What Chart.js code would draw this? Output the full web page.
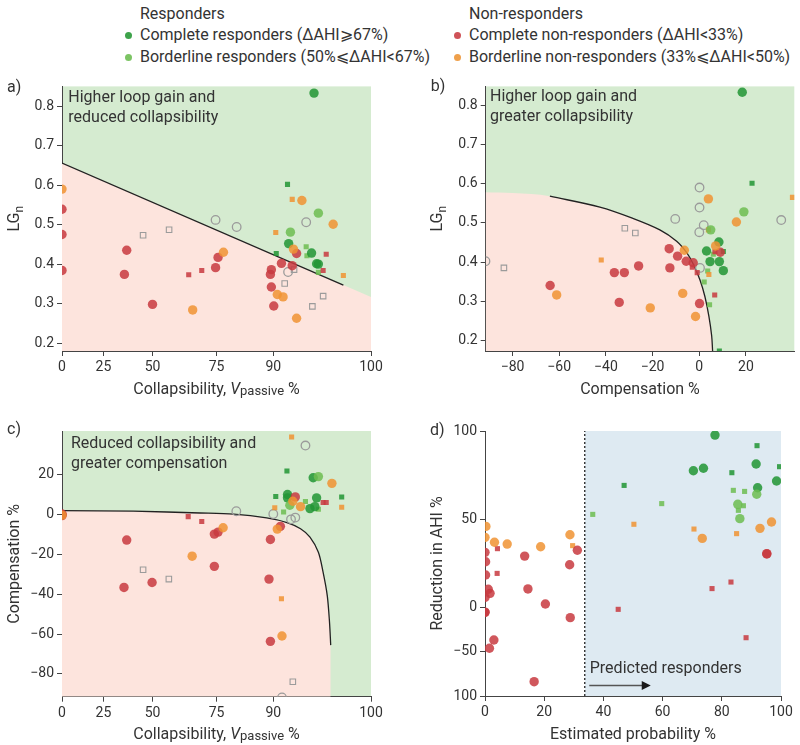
<!DOCTYPE html>
<html>
<head>
<meta charset="utf-8">
<script src="https://cdn.jsdelivr.net/npm/chart.js@4.4.1/dist/chart.umd.min.js"></script>
<style>
  body { margin: 0; background: #fff; }
  #wrap { position: relative; width: 800px; height: 745px; font-family: Roboto, "DejaVu Sans", sans-serif; color: #333; }
  canvas { position: absolute; }
  .lg { position: absolute; font-size: 16px; line-height: 22px; white-space: nowrap; }
  .lg i { position: absolute; left: -15px; top: 7.5px; width: 7px; height: 7px; border-radius: 50%; }
</style>
</head>
<body>
<div id="wrap">
  <div class="lg" style="left:140px;top:3px">Responders</div>
  <div class="lg" style="left:140px;top:24px"><i style="background:#3ea34b"></i>Complete responders (ΔAHI⩾67%)</div>
  <div class="lg" style="left:140px;top:46px"><i style="background:#7cc464"></i>Borderline responders (50%⩽ΔAHI&lt;67%)</div>
  <div class="lg" style="left:469px;top:3px">Non-responders</div>
  <div class="lg" style="left:469px;top:24px"><i style="background:#cf5358"></i>Complete non-responders (ΔAHI&lt;33%)</div>
  <div class="lg" style="left:469px;top:46px"><i style="background:#efa04b"></i>Borderline non-responders (33%⩽ΔAHI&lt;50%)</div>
  <canvas id="chartA" width="400" height="330" style="left:0;top:75px"></canvas>
  <canvas id="chartB" width="400" height="330" style="left:400px;top:75px"></canvas>
  <canvas id="chartC" width="400" height="340" style="left:0;top:405px"></canvas>
  <canvas id="chartD" width="400" height="340" style="left:400px;top:405px"></canvas>
</div>
<script>
// ---- panel a: collapsibility (Vpassive %) vs loop gain (LGn)
const aCompleteResp = [[96.6,0.833],[92.9,0.452],[96.3,0.428],[96.9,0.401],[97.1,0.400]];
const aBorderResp = [[97.1,0.529],[93.2,0.481]];
const aCompleteNon = [[0,0.539],[0,0.475],[0,0.384],[37.5,0.435],[36.3,0.374],[50.0,0.298],[75.5,0.417],[74.7,0.391],[94.2,0.427],[91.6,0.402],[93.5,0.396],[89.6,0.386],[89.4,0.374],[89.6,0.342],[90.1,0.294]];
const aBorderNon = [[0,0.590],[95.0,0.561],[98.5,0.501],[93.7,0.438],[77.2,0.430],[90.8,0.323],[91.9,0.317],[66.7,0.284],[94.2,0.263]];
const aUnknown = [[74.7,0.512],[81.1,0.494],[95.6,0.506],[92.8,0.380]];
const aCompleteRespSq = [[92.7,0.602],[90.6,0.427]];
const aBorderRespSq = [[95.6,0.444],[95.7,0.421],[97.1,0.379]];
const aCompleteNonSq = [[65.2,0.373],[70.0,0.384],[97.9,0.425],[97.6,0.384]];
const aBorderNonSq = [[93.5,0.564],[90.5,0.480],[99.2,0.371]];
const aUnknownSq = [[45.6,0.473],[57.3,0.487],[92.2,0.351],[93.8,0.386],[96.4,0.293],[97.6,0.319]];
const aBoundary = [[0,0.656],[100,0.317]];
const aBoundaryLine = [[0,0.656],[99.2,0.347]];

// ---- panel b: compensation % vs loop gain
const bCompleteResp = [[18.4,0.833],[8.4,0.451],[3.1,0.428],[4.6,0.401],[8.6,0.401],[10.3,0.378]];
const bBorderResp = [[19.1,0.528],[4.9,0.482]];
const bCompleteNon = [[-63.9,0.340],[-36.4,0.373],[-32.1,0.373],[-34.3,0.297],[-26.0,0.390],[-12.9,0.434],[-9.3,0.415],[-12.6,0.385],[-5.6,0.402],[-2.6,0.398],[0.1,0.294],[9.0,0.425]];
const bBorderNon = [[3.9,0.561],[15.9,0.502],[7.0,0.441],[-6.4,0.430],[-7.1,0.320],[-21.0,0.283],[-1.6,0.261],[-61.1,0.316]];
const bUnknown = [[0.1,0.590],[0.1,0.539],[-10.3,0.510],[1.9,0.494],[0,0.476],[0.3,0.385],[35.1,0.507],[-91.6,0.402]];
const bCompleteRespSq = [[22.6,0.601],[8.6,0.173],[10.3,0.427]];
const bBorderRespSq = [[3.6,0.377],[2.1,0.349],[4.4,0.291],[6.0,0.420]];
const bCompleteNonSq = [[-3.0,0.387],[-0.9,0.373],[6.7,0.426],[6.6,0.316]];
const bBorderNonSq = [[39.9,0.565],[3.9,0.482],[4.1,0.368],[-42.0,0.405]];
const bUnknownSq = [[-31.9,0.486],[-27.4,0.474],[-83.7,0.385]];
const bBoundary = [[-92,0.578],[-80,0.576],[-64,0.568],[-42.6,0.540],[-28.3,0.511],[-16.9,0.482],[-9.7,0.453],[-5.4,0.424],[-2.6,0.395],[0.3,0.354],[2.4,0.312],[4.1,0.262],[5.3,0.212],[5.7,0.173]];
const bLineFrom = -64;

// ---- panel c: collapsibility vs compensation
const cCompleteResp = [[96.5,18.5],[92.7,10.1],[92.7,8.4],[96.9,8.4],[96.1,3.0],[96.7,4.0]];
const cBorderResp = [[97.1,19.1],[93.1,4.7]];
const cCompleteNon = [[0,-0.5],[0,0.3],[0,-0.1],[94.0,8.9],[91.4,-5.9],[89.4,-12.5],[89.1,-32.4],[89.4,-63.7],[37.5,-12.8],[36.1,-36.6],[49.8,-34.1],[74.3,-9.8],[75.5,-8.8],[74.3,-26.0]];
const cBorderNon = [[0,-0.3],[98.4,15.7],[94.8,4.0],[93.6,6.7],[77.1,-6.6],[66.5,-20.9],[90.8,-7.3],[91.7,-61.0]];
const cUnknown = [[95.5,34.7],[81.0,1.7],[90.0,0.3],[93.3,-2.4],[94.0,-1.5],[91.7,-91.9]];
const cCompleteRespSq = [[92.6,21.9],[90.5,9.1],[99.1,8.8]];
const cBorderRespSq = [[95.5,6.6],[97.1,2.7],[92.0,1.3]];
const cCompleteNonSq = [[65.0,-1.0],[70.0,-3.5],[97.6,6.1],[97.9,6.1]];
const cBorderNonSq = [[93.4,39.0],[90.3,3.4],[99.1,3.7],[91.6,-42.3]];
const cUnknownSq = [[45.6,-27.7],[57.2,-32.4],[93.6,-84.0]];
const cBoundary = [[0,2.0],[40.9,1.7],[69.4,0.8],[80.2,0.2],[88.6,-1.7],[92.6,-4.0],[94.8,-7.1],[96.1,-11.3],[97.1,-18.9],[97.6,-29.0],[98.0,-40.8],[98.2,-54.3],[98.3,-65.6]];

// ---- panel d: estimated probability vs reduction in AHI
const dCompleteResp = [[77.7,97.7],[70.4,77.5],[73.8,78.9],[91.6,81.3],[92.1,67.9],[98.5,71.7]];
const dBorderResp = [[91.8,64.2],[85.4,58.5],[86.1,50.4]];
const dCompleteNon = [[0,31.3],[0.2,26.0],[0.2,18.5],[1.1,10.4],[1.7,8.1],[0,5.8],[0,-5.3],[0,-5.0],[3.0,-36.6],[1.5,-46.0],[13.4,29.2],[14.5,10.6],[20.4,2.1],[28.6,24.3],[28.8,-11.3],[31.2,32.5],[16.6,-83.8],[95.2,30.4],[95.2,30.6]];
const dBorderNon = [[0.3,46.0],[0,39.8],[3.2,37.0],[7.5,36.0],[18.8,34.5],[28.7,41.3],[73.4,39.2],[92.9,44.9],[96.8,48.5]];
const dCompleteRespSq = [[91.9,91.7],[99.5,79.8],[83.4,76.4],[47.0,69.2]];
const dBorderRespSq = [[36.4,52.8],[59.7,58.9],[83.9,66.4],[87.7,65.8],[87.3,57.7],[85.6,55.1]];
const dCompleteNonSq = [[4.2,33.4],[4.1,19.4],[45.0,-1.9],[76.7,10.8],[83.1,14.5],[88.2,-34.0]];
const dBorderNonSq = [[29.6,35.1],[50.3,47.2],[70.6,44.5],[85.0,41.9]];
const dThreshold = 33.7;

// ---- ticks
const collapseTicks = [0, 25, 50, 75, 90, 100];
const loopGainTicks = [0.2, 0.3, 0.4, 0.5, 0.6, 0.7, 0.8];
const compTicks = [-80, -60, -40, -20, 0, 20];
const probTicks = [0, 20, 40, 60, 80, 100];
const ahiTicks = [100, 50, 0, -50, -100];
const ahiTickLabels = ['100', '50', '0', '−50', '100'];

const RED = 'rgba(200,58,64,0.85)';
const ORANGE = 'rgba(240,147,51,0.85)';
const GREEN = 'rgba(33,149,52,0.85)';
const LIGHTGREEN = 'rgba(109,189,81,0.85)';
const GRAY = '#9b9b9b';
const BG_GREEN = '#d5ebd0';
const BG_PINK = '#fde4dd';
const BG_BLUE = '#deeaf2';
const FONT = 'Roboto';

// x axis of a and c is spaced by sqrt(100 - Vpassive)
class SqrtGapScale extends Chart.LinearScale {
  getPixelForValue(value) {
    const t = (10 - Math.sqrt(Math.max(0, 100 - value))) / 10;
    return this.getPixelForDecimal(t);
  }
  getValueForPixel(pixel) {
    const t = this.getDecimalForPixel(pixel);
    return 100 - Math.pow(10 - 10 * t, 2);
  }
}
SqrtGapScale.id = 'sqrtgap';
SqrtGapScale.defaults = Chart.LinearScale.defaults;

// y axis of d: positive half gets twice the room of the negative half
class SplitScale extends Chart.LinearScale {
  getPixelForValue(value) {
    const d = value < 0 ? (value + 100) / 300 : (100 + 2 * value) / 300;
    return this.getPixelForDecimal(d);
  }
}
SplitScale.id = 'split';
SplitScale.defaults = Chart.LinearScale.defaults;
Chart.register(SqrtGapScale, SplitScale);

const xy = arr => arr.map(p => ({ x: p[0], y: p[1] }));

function dot(arr, color) {
  return { type: 'scatter', data: xy(arr), pointStyle: 'circle', pointRadius: 4.7,
    pointBackgroundColor: color, pointBorderWidth: 0, order: 1 };
}
function square(arr, color) {
  return { type: 'scatter', data: xy(arr), pointStyle: 'rect', pointRadius: 3.6,
    pointBackgroundColor: color, pointBorderWidth: 0, order: 2 };
}
function ring(arr) {
  return { type: 'scatter', data: xy(arr), pointStyle: 'circle', pointRadius: 4.3,
    pointBackgroundColor: 'rgba(0,0,0,0)', pointBorderColor: GRAY, pointBorderWidth: 1.3, order: 3 };
}
function box(arr) {
  return { type: 'scatter', data: xy(arr), pointStyle: 'rect', pointRadius: 3.9,
    pointBackgroundColor: 'rgba(0,0,0,0)', pointBorderColor: GRAY, pointBorderWidth: 1.1, order: 3 };
}
function region(arr, color, tension) {
  return { type: 'line', data: xy(arr), fill: 'start', backgroundColor: color, borderWidth: 0,
    pointRadius: 0, tension: tension, order: 20 };
}
function curve(arr, tension, dash) {
  return { type: 'line', data: xy(arr), fill: false, borderColor: '#222', borderWidth: 1.3,
    borderDash: dash || [], pointRadius: 0, tension: tension, order: 10 };
}

function axis(opts) {
  return {
    type: opts.type || 'linear',
    min: opts.min, max: opts.max,
    border: { display: true, color: '#444', width: 1 },
    grid: { drawOnChartArea: false, drawTicks: true, tickLength: 5, color: '#444' },
    ticks: {
      color: '#333', font: { family: FONT, size: 14 }, padding: 3, maxRotation: 0, autoSkip: false,
      callback: (v, i) => opts.labels ? opts.labels[i] : String(v)
    },
    afterBuildTicks: s => { s.ticks = opts.ticks.map(v => ({ value: v })); },
    afterFit: s => { if (opts.width) s.width = opts.width; if (opts.height) s.height = opts.height; }
  };
}

function drawParts(ctx, parts, cx, cy, rotate) {
  ctx.save();
  ctx.translate(cx, cy);
  if (rotate) ctx.rotate(-Math.PI / 2);
  ctx.textAlign = 'left';
  ctx.textBaseline = 'alphabetic';
  let w = 0;
  parts.forEach(p => { ctx.font = p.font; w += ctx.measureText(p.text).width; });
  let x = -w / 2;
  parts.forEach(p => {
    ctx.font = p.font;
    ctx.fillText(p.text, x, 5.5 + (p.dy || 0));
    x += ctx.measureText(p.text).width;
  });
  ctx.restore();
}

const collapseTitle = [
  { text: 'Collapsibility, ', font: '16px ' + FONT },
  { text: 'V', font: 'italic 16px ' + FONT },
  { text: 'passive', font: '13px ' + FONT, dy: 1 },
  { text: ' %', font: '16px ' + FONT }
];
const lgTitle = [
  { text: 'LG', font: '16px ' + FONT },
  { text: 'n', font: '12px ' + FONT, dy: 4 }
];
const plain = t => [{ text: t, font: '16px ' + FONT }];

// green background, labels, notes and axis titles
function panelPlugin(cfg) {
  return {
    id: 'panel',
    beforeDraw(chart) {
      const a = chart.chartArea, ctx = chart.ctx;
      if (cfg.bg) {
        ctx.save();
        ctx.fillStyle = cfg.bg;
        ctx.fillRect(a.left, a.top, a.right - a.left, a.bottom - a.top);
        ctx.restore();
      }
    },
    afterDraw(chart) {
      const a = chart.chartArea, ctx = chart.ctx;
      ctx.save();
      ctx.fillStyle = '#333';
      ctx.textBaseline = 'middle';
      ctx.textAlign = 'left';
      ctx.font = '16px ' + FONT;
      ctx.fillText(cfg.letter[0], cfg.letter[1], cfg.letter[2]);
      (cfg.notes || []).forEach((line, i) => {
        ctx.fillText(line, a.left + cfg.noteAt[0], a.top + cfg.noteAt[1] + i * 20);
      });
      drawParts(ctx, cfg.xTitle, (a.left + a.right) / 2, a.bottom + 37, false);
      drawParts(ctx, cfg.yTitle, a.left - 49, (a.top + a.bottom) / 2, true);
      if (cfg.arrow) {
        const x0 = chart.scales.x.getPixelForValue(dThreshold);
        ctx.fillText('Predicted responders', x0 + 5, a.bottom - 27);
        const y = a.bottom - 10.5;
        ctx.strokeStyle = '#555';
        ctx.lineWidth = 1.5;
        ctx.beginPath(); ctx.moveTo(x0 + 4.5, y); ctx.lineTo(x0 + 58, y); ctx.stroke();
        ctx.fillStyle = '#1a1a1a';
        ctx.beginPath(); ctx.moveTo(x0 + 66, y); ctx.lineTo(x0 + 57, y - 4.5); ctx.lineTo(x0 + 57, y + 4.5); ctx.closePath(); ctx.fill();
      }
      ctx.restore();
    }
  };
}

function baseOptions(scales, padding) {
  return {
    responsive: false, animation: false, devicePixelRatio: 1, events: [],
    layout: { padding: padding },
    plugins: { legend: { display: false }, tooltip: { enabled: false } },
    scales: scales
  };
}

function markers(cr, br, cn, bn, unk, crSq, brSq, cnSq, bnSq, unkSq) {
  const sets = [dot(bn, ORANGE), dot(cn, RED), dot(br, LIGHTGREEN), dot(cr, GREEN),
    square(bnSq, ORANGE), square(cnSq, RED), square(brSq, LIGHTGREEN), square(crSq, GREEN)];
  if (unk) sets.push(ring(unk));
  if (unkSq) sets.push(box(unkSq));
  return sets;
}

// a)
new Chart(document.getElementById('chartA'), {
  type: 'scatter',
  data: { datasets: [
    region(aBoundary, BG_PINK, 0), curve(aBoundaryLine, 0),
    ...markers(aCompleteResp, aBorderResp, aCompleteNon, aBorderNon, aUnknown,
      aCompleteRespSq, aBorderRespSq, aCompleteNonSq, aBorderNonSq, aUnknownSq)
  ] },
  options: baseOptions({
    x: axis({ type: 'sqrtgap', min: 0, max: 100, ticks: collapseTicks, height: 54 }),
    y: axis({ min: 0.18, max: 0.85, ticks: loopGainTicks, labels: loopGainTicks.map(v => v.toFixed(1)), width: 62 })
  }, { top: 5, right: 29, left: 0, bottom: 0 }),
  plugins: [panelPlugin({ bg: BG_GREEN, letter: ['a)', 7, 13], notes: ['Higher loop gain and', 'reduced collapsibility'],
    noteAt: [6.3, 11.7], xTitle: collapseTitle, yTitle: lgTitle })]
});

// b)
new Chart(document.getElementById('chartB'), {
  type: 'scatter',
  data: { datasets: [
    region(bBoundary, BG_PINK, 0.35), curve(bBoundary.filter(p => p[0] >= bLineFrom), 0.35),
    ...markers(bCompleteResp, bBorderResp, bCompleteNon, bBorderNon, bUnknown,
      bCompleteRespSq, bBorderRespSq, bCompleteNonSq, bBorderNonSq, bUnknownSq)
  ] },
  options: baseOptions({
    x: axis({ min: -91.5, max: 40.7, ticks: compTicks, labels: compTicks.map(v => v < 0 ? '−' + (-v) : String(v)), height: 54 }),
    y: axis({ min: 0.173, max: 0.848, ticks: loopGainTicks, labels: loopGainTicks.map(v => v.toFixed(1)), width: 85.7 })
  }, { top: 5, right: 5.7, left: 0, bottom: 0 }),
  plugins: [panelPlugin({ bg: BG_GREEN, letter: ['b)', 30.7, 12], notes: ['Higher loop gain and', 'greater collapsibility'],
    noteAt: [4.3, 10.7], xTitle: plain('Compensation %'), yTitle: lgTitle })]
});

// c)
new Chart(document.getElementById('chartC'), {
  type: 'scatter',
  data: { datasets: [
    region(cBoundary.concat([[cBoundary[cBoundary.length - 1][0], -91.5]]), BG_PINK, 0.3), curve(cBoundary, 0.3),
    ...markers(cCompleteResp, cBorderResp, cCompleteNon, cBorderNon, cUnknown,
      cCompleteRespSq, cBorderRespSq, cCompleteNonSq, cBorderNonSq, cUnknownSq)
  ] },
  options: baseOptions({
    x: axis({ type: 'sqrtgap', min: 0, max: 100, ticks: collapseTicks, height: 48.3 }),
    y: axis({ min: -91.5, max: 42, ticks: compTicks, labels: compTicks.map(v => v < 0 ? '−' + (-v) : String(v)), width: 62 })
  }, { top: 26, right: 29, left: 0, bottom: 0 }),
  plugins: [panelPlugin({ bg: BG_GREEN, letter: ['c)', 7, 25], notes: ['Reduced collapsibility and', 'greater compensation'],
    noteAt: [9, 13.3], xTitle: collapseTitle, yTitle: plain('Compensation %') })]
});

// d)
new Chart(document.getElementById('chartD'), {
  type: 'scatter',
  data: { datasets: [
    region([[dThreshold, 100], [100, 100]], BG_BLUE, 0),
    curve([[dThreshold, -100], [dThreshold, 100]], 0, [2, 2]),
    ...markers(dCompleteResp, dBorderResp, dCompleteNon, dBorderNon, null,
      dCompleteRespSq, dBorderRespSq, dCompleteNonSq, dBorderNonSq, null)
  ] },
  options: baseOptions({
    x: axis({ min: 0, max: 100, ticks: probTicks, height: 49 }),
    y: axis({ type: 'split', min: -100, max: 100, ticks: ahiTicks, labels: ahiTickLabels, width: 85 })
  }, { top: 26, right: 19, left: 0, bottom: 0 }),
  plugins: [panelPlugin({ letter: ['d)', 30, 26], xTitle: plain('Estimated probability %'),
    yTitle: plain('Reduction in AHI %'), arrow: true })]
});
</script>
</body>
</html>
